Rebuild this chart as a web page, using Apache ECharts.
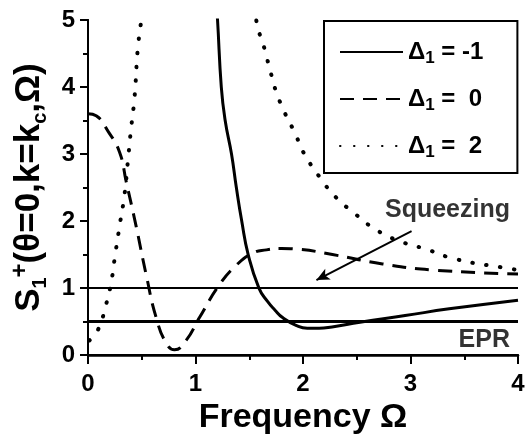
<!DOCTYPE html>
<html>
<head>
<meta charset="utf-8">
<script src="https://cdn.jsdelivr.net/npm/echarts@6/dist/echarts.min.js"></script>
<style>
  html, body { margin: 0; padding: 0; background: #fff; }
  #chart { width: 531px; height: 440px; }
</style>
</head>
<body>
<div id="chart"></div>
<script>
// curve for Delta1 = -1 (solid)
var solidX = [1.195, 1.205, 1.24, 1.276, 1.335, 1.38, 1.43, 1.49, 1.59, 1.67, 1.74, 1.81, 1.94, 2.04, 2.15, 2.27, 2.53, 2.95, 3.36, 4.0];
var solidY = [5.2, 5.0, 4.0, 3.5, 3.0, 2.5, 2.0, 1.5, 1.0, 0.80, 0.67, 0.56, 0.44, 0.40, 0.40, 0.42, 0.49, 0.59, 0.69, 0.82];
// curve for Delta1 = 0 (dashed)
var dashX = [0, 0.076, 0.19, 0.293, 0.355, 0.448, 0.541, 0.634, 0.727, 0.805, 0.913, 1.037, 1.223, 1.379, 1.53, 1.66, 1.80, 1.95, 2.274, 2.74, 3.20, 4.0];
var dashY = [3.6, 3.57, 3.33, 3.03, 2.59, 1.92, 1.2, 0.56, 0.18, 0.08, 0.22, 0.56, 1.05, 1.34, 1.52, 1.57, 1.59, 1.58, 1.50, 1.36, 1.27, 1.21];
// curve for Delta1 = 2 (dotted), two branches
var dotX1 = [0.014, 0.091, 0.169, 0.216, 0.247, 0.293, 0.34, 0.37, 0.40, 0.433, 0.463, 0.495, 0.505];
var dotY1 = [0.22, 0.37, 0.76, 1.09, 1.43, 1.92, 2.40, 2.88, 3.37, 3.85, 4.57, 5.0, 5.2];
var dotX2 = [1.555, 1.565, 1.642, 1.704, 1.78, 1.937, 1.995, 2.153, 2.309, 2.46, 2.68, 2.90, 3.146, 3.425, 3.92, 4.0];
var dotY2 = [5.2, 5.0, 4.57, 4.19, 3.80, 3.27, 3.05, 2.66, 2.35, 2.14, 1.87, 1.70, 1.58, 1.43, 1.29, 1.27];

var seriesNames = ['d-1', 'd0', 'd2'];
var legendValues = ['-1', ' 0', ' 2'];
var refLevels = [1, 0.5];
var refWidths = [2, 3];
var arrowFrom = [3.01, 1.85];
var arrowTo = [2.125, 1.12];
var notes = [
  { name: 'Squeezing', value: [3.93, 2.17] },
  { name: 'EPR', value: [3.93, 0.22] }
];

var FONT = '"Liberation Sans", Arial, sans-serif';

function pairs(xs, ys) {
  return xs.map(function (x, i) { return [x, ys[i]]; });
}

var dotData = pairs(dotX1, dotY1).concat([['-', '-']], pairs(dotX2, dotY2));

var tickStyle = { color: '#000', width: 2 };
var boldText = { fontWeight: 'bold', fontFamily: FONT, color: '#000' };

var chart = echarts.init(document.getElementById('chart'));
chart.setOption({
  animation: false,
  backgroundColor: '#fff',
  grid: { left: 88, right: 13, top: 20, bottom: 75 },
  legend: {
    data: seriesNames,
    orient: 'vertical',
    left: 324,
    top: 21,
    padding: [19, 34, 12, 15],
    itemWidth: 63,
    itemHeight: 20,
    itemGap: 20,
    borderColor: '#000',
    borderWidth: 2,
    selectedMode: false,
    itemStyle: { opacity: 0 },
    formatter: function (name) {
      var i = seriesNames.indexOf(name);
      return '{a|\u0394}{s|1}{a| = ' + legendValues[i] + '}';
    },
    textStyle: {
      rich: {
        a: Object.assign({ fontSize: 24, lineHeight: 30 }, boldText),
        s: Object.assign({ fontSize: 17, lineHeight: 10, verticalAlign: 'bottom' }, boldText)
      }
    }
  },
  xAxis: [{
    type: 'value',
    min: 0, max: 4, interval: 1,
    name: 'Frequency \u03A9',
    nameLocation: 'middle',
    nameGap: 45,
    nameTextStyle: Object.assign({ fontSize: 34 }, boldText),
    axisLine: { show: true, lineStyle: { color: '#000', width: 2 } },
    axisTick: { show: true, inside: false, length: 9, lineStyle: tickStyle },
    minorTick: { show: true, splitNumber: 2, length: 4, lineStyle: tickStyle },
    axisLabel: Object.assign({ margin: 17, fontSize: 24 }, boldText),
    splitLine: { show: false }
  }, {
    type: 'value',
    position: 'top',
    min: 0, max: 4, interval: 1,
    axisLine: { show: true, lineStyle: { color: '#000', width: 2.5 } },
    axisTick: { show: true, inside: true, length: 5, lineStyle: tickStyle },
    minorTick: { show: true, splitNumber: 2, length: 5, lineStyle: tickStyle },
    axisLabel: { show: false },
    splitLine: { show: false }
  }],
  yAxis: [{
    type: 'value',
    min: 0, max: 5, interval: 1,
    name: '{m|S}{sub|1}{sup|+}{m|(\u03B8=0,k=k}{sub|c}{m|,\u03A9)}',
    nameLocation: 'middle',
    nameRotate: 90,
    nameGap: 38,
    nameTextStyle: {
      rich: {
        m: Object.assign({ fontSize: 35, lineHeight: 42 }, boldText),
        sub: Object.assign({ fontSize: 20, lineHeight: 18, verticalAlign: 'bottom' }, boldText),
        sup: Object.assign({ fontSize: 24, lineHeight: 14, verticalAlign: 'top' }, boldText)
      }
    },
    axisLine: { show: true, lineStyle: { color: '#000', width: 2 } },
    axisTick: { show: true, inside: false, length: 8, lineStyle: tickStyle },
    minorTick: { show: true, splitNumber: 2, length: 4, lineStyle: tickStyle },
    axisLabel: Object.assign({ margin: 13, fontSize: 24 }, boldText),
    splitLine: { show: false }
  }, {
    type: 'value',
    position: 'right',
    min: 0, max: 5, interval: 1,
    axisLine: { show: true, lineStyle: { color: '#000', width: 2 } },
    axisTick: { show: true, inside: true, length: 5, lineStyle: tickStyle },
    minorTick: { show: true, splitNumber: 2, length: 5, lineStyle: tickStyle },
    axisLabel: { show: false },
    splitLine: { show: false }
  }],
  series: [{
    name: seriesNames[0],
    type: 'line',
    data: pairs(solidX, solidY),
    showSymbol: false, symbol: 'none',
    smooth: 0.5,
    clip: true,
    lineStyle: { color: '#000', width: 3, type: 'solid' },
    itemStyle: { color: '#000' }
  }, {
    name: seriesNames[1],
    type: 'line',
    data: pairs(dashX, dashY),
    showSymbol: false, symbol: 'none',
    smooth: 0.5,
    clip: true,
    lineStyle: { color: '#000', width: 3, type: [14, 9] },
    itemStyle: { color: '#000' }
  }, {
    name: seriesNames[2],
    type: 'line',
    data: dotData,
    showSymbol: false, symbol: 'none',
    smooth: 0.5,
    clip: true,
    lineStyle: { color: '#000', width: 4, type: [0.5, 13.5], cap: 'round' },
    itemStyle: { color: '#000' }
  }, {
    name: 'notes',
    type: 'scatter',
    data: notes,
    symbolSize: 1,
    itemStyle: { color: 'rgba(0,0,0,0)' },
    label: Object.assign({
      show: true, position: 'left', distance: 0, formatter: '{b}', fontSize: 25
    }, boldText),
    markLine: {
      silent: true,
      symbol: ['none', 'none'],
      label: { show: false },
      lineStyle: { color: '#000', width: 2, type: 'solid' },
      data: refLevels.map(function (v, i) {
        return { yAxis: v, lineStyle: { width: refWidths[i] } };
      }).concat([
        [{ coord: arrowFrom, symbol: 'none' }, { coord: arrowTo, symbol: 'arrow', symbolSize: [9, 13] }]
      ])
    }
  }]
});
</script>
</body>
</html>
